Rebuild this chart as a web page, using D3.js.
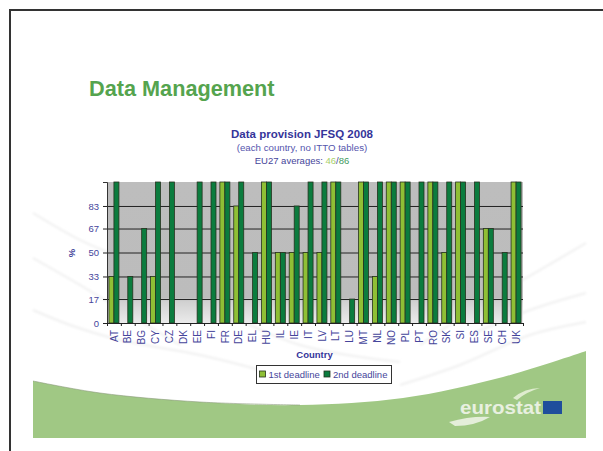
<!DOCTYPE html>
<html><head><meta charset="utf-8">
<script src="https://cdn.jsdelivr.net/npm/d3@7"></script>
<style>html,body{margin:0;padding:0;background:#fff}svg{display:block}text{font-family:"Liberation Sans",Arial,sans-serif}</style>
</head><body><svg id="c" width="603" height="451"></svg>
<script>
const countries = ["AT","BE","BG","CY","CZ","DK","EE","FI","FR","DE","EL","HU","IL","IE","IT","LV","LT","LU","MT","NL","NO","PL","PT","RO","SK","SI","ES","SE","CH","UK"];
const firstDeadline  = [33,0,0,33,0,0,0,0,100,83,0,100,50,50,50,50,100,0,100,33,100,100,0,100,50,100,0,67,0,100];
const secondDeadline = [100,33,67,100,100,0,100,100,100,100,50,100,50,83,100,100,100,17,100,100,100,100,100,100,100,100,100,67,50,100];
const yTicks = [0,17,33,50,67,83];
const seriesNames = ["1st deadline","2nd deadline"];

const INK="#45459b", TITLE="#35359a", C1="#8fbf35", C2="#0b7c3e", GREEN="#a0c884";
const svg=d3.select("#c");
const defs=svg.append("defs");
const g=defs.append("linearGradient").attr("id","pg").attr("x1",0).attr("x2",0).attr("y1",0).attr("y2",1);
[[0,"#bdbdbd"],[.82,"#bcbcbc"],[.84,"#cfcfcf"],[1,"#ebebeb"]].forEach(d=>g.append("stop").attr("offset",d[0]).attr("stop-color",d[1]));
defs.append("filter").attr("id","soft").append("feGaussianBlur").attr("stdDeviation",1.2);

// slide decoration
const curve=d3.line().curve(d3.curveCatmullRom);
const swirl=[
 [[33,213],[80,240],[130,262],[200,300],[300,345],[400,362]],
 [[33,258],[80,285],[130,315],[180,345]],
 [[33,310],[70,325],[120,340],[200,355],[260,370]],
 [[586,243],[540,270],[480,305],[420,345]],
 [[586,293],[530,310],[470,335]],
 [[586,322],[530,335],[460,365],[400,385]]];
svg.selectAll("path.sw").data(swirl).join("path").attr("class","sw").attr("d",curve)
  .attr("fill","none").attr("stroke","#f3f3f3").attr("stroke-width",2.5).attr("filter","url(#soft)");
const edgeTop=[[33,381],[100,393],[200,402],[300,405],[403,398],[503,377],[586,351]];
svg.append("path").attr("fill",GREEN)
  .attr("d",curve(edgeTop)+"L586,438L33,438Z");
svg.append("path").attr("fill","none").attr("stroke","#8a9a7c").attr("stroke-width",1).attr("opacity",.6)
  .attr("d",curve(edgeTop.slice(0,4)));
svg.append("path").attr("fill","#dfeccf").attr("d","M513,398Q525,388 540,388Q526,392 517,400Z");
svg.append("path").attr("fill","#e4eeda").attr("d","M449,422Q470,416 490,417Q475,426 455,426Z");
svg.append("text").attr("x",460).attr("y",414).attr("font-size",19).attr("font-weight","bold").attr("fill","#e8f0e0").attr("textLength",81).attr("lengthAdjust","spacingAndGlyphs").text("eurostat");
svg.append("rect").attr("x",543).attr("y",401).attr("width",19).attr("height",13).attr("fill","#1f4e9c");

// frame
svg.append("path").attr("d","M10,451V10H603").attr("fill","none").attr("stroke","#333").attr("stroke-width",2);

// titles
svg.append("text").attr("x",89).attr("y",96).attr("font-size",21.7).attr("font-weight","bold").attr("fill","#55a44e").text("Data Management");
const mid=302;
svg.append("text").attr("x",mid).attr("y",138).attr("text-anchor","middle").attr("font-size",11.5).attr("font-weight","bold").attr("fill",TITLE).text("Data provision JFSQ 2008");
svg.append("text").attr("x",mid).attr("y",151).attr("text-anchor","middle").attr("font-size",9.7).attr("fill","#5555ad").text("(each country, no ITTO tables)");
const t3=svg.append("text").attr("x",mid).attr("y",164).attr("text-anchor","middle").attr("font-size",9.5).attr("fill",INK);
t3.append("tspan").text("EU27 averages: ");
t3.append("tspan").attr("fill","#a8d06a").text("46");
t3.append("tspan").text("/");
t3.append("tspan").attr("fill","#3f9a60").text("86");

// chart
const L=107,R=523,T=182,B=323;
const x=d3.scaleBand().domain(countries).range([L,R]).paddingInner(.28).paddingOuter(.14);
const x1=d3.scaleBand().domain([0,1]).range([0,x.bandwidth()]);
const y=d3.scaleLinear().domain([0,100]).range([B,T]);
const edge=d3.scaleLinear().domain([0,countries.length]).range([L,R]);

svg.append("rect").attr("x",L).attr("y",T).attr("width",R-L).attr("height",B-T).attr("fill","url(#pg)");
svg.append("g").selectAll("line").data(yTicks.filter(d=>d>0)).join("line")
  .attr("x1",L).attr("x2",R).attr("y1",d=>y(d)+.5).attr("y2",d=>y(d)+.5).attr("stroke","#222").attr("stroke-width",1);

const bars=countries.flatMap((c,i)=>[{c,s:0,v:firstDeadline[i]},{c,s:1,v:secondDeadline[i]}]).filter(d=>d.v>0);
svg.append("g").selectAll("rect").data(bars).join("rect")
  .attr("x",d=>x(d.c)+x1(d.s)).attr("width",x1.bandwidth())
  .attr("y",d=>y(d.v)).attr("height",d=>B-y(d.v))
  .attr("fill",d=>d.s?C2:C1).attr("stroke","#26331f").attr("stroke-width",.8);

const yAxis=svg.append("g").attr("transform",`translate(${L},0)`)
  .call(d3.axisLeft(y).tickValues(yTicks).tickSize(4).tickPadding(4).tickFormat(d3.format("d")));
yAxis.select(".domain").attr("stroke","#333");
yAxis.selectAll("line").attr("stroke","#222");
yAxis.selectAll("text").attr("font-size",9.5).attr("fill",INK).style("font-family",'"Liberation Sans",Arial,sans-serif');

const xTicks=svg.append("g").attr("transform",`translate(0,${B})`)
  .call(d3.axisBottom(edge).tickValues(d3.range(countries.length+1)).tickSize(3).tickFormat(""));
xTicks.selectAll("line,.domain").attr("stroke","#222");

const xAxis=svg.append("g").attr("transform",`translate(1,${B})`)
  .call(d3.axisBottom(x).tickSize(0).tickPadding(0));
xAxis.select(".domain").remove();
xAxis.selectAll("text").attr("x",0).attr("y",0).attr("dy",0)
  .attr("text-anchor","end").attr("dominant-baseline","middle")
  .attr("transform","translate(0,7) rotate(-90)").attr("font-size",10).attr("fill",INK)
  .style("font-family",'"Liberation Sans",Arial,sans-serif');

svg.append("text").attr("transform","translate(75,253) rotate(-90)").attr("text-anchor","middle").attr("font-size",9.5).attr("font-weight","bold").attr("fill",INK).text("%");
svg.append("text").attr("x",314.5).attr("y",358).attr("text-anchor","middle").attr("font-size",9.5).attr("font-weight","bold").attr("fill",TITLE).text("Country");

// legend
const lg=svg.append("g");
lg.append("rect").attr("x",256.5).attr("y",365.5).attr("width",135).attr("height",18).attr("fill","#fff").attr("stroke","#333").attr("stroke-width",1);
const lx=[259.5,324];
lg.selectAll("rect.k").data(seriesNames).join("rect").attr("class","k")
  .attr("x",(d,i)=>lx[i]).attr("y",371).attr("width",6).attr("height",6)
  .attr("fill",(d,i)=>i?C2:C1).attr("stroke","#26331f").attr("stroke-width",.8);
lg.selectAll("text").data(seriesNames).join("text")
  .attr("x",(d,i)=>lx[i]+9).attr("y",378).attr("font-size",9.5).attr("fill",INK).text(d=>d);
</script></body></html>
